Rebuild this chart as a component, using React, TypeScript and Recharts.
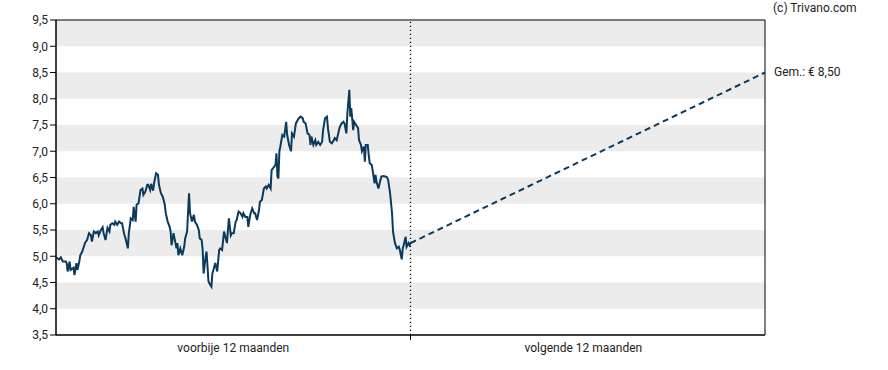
import { LineChart, Line, XAxis, YAxis, ReferenceArea, ReferenceLine } from 'recharts';

// koersverloop afgelopen 12 maanden: [dag, koers]
const PAST: [number, number][] = [
  [0, 4.98], [3, 4.94], [5, 4.98], [7, 4.9], [10, 4.9], [11, 4.87], [12, 4.71], [14, 4.9], [15, 4.74],
  [18, 4.78], [19, 4.64], [21, 4.87], [22, 4.74], [24, 4.9], [25, 5.02], [27, 5.09], [30, 5.26], [32, 5.31],
  [34, 5.44], [36, 5.4], [37, 5.28], [39, 5.47], [41, 5.44], [43, 5.47], [44, 5.4], [46, 5.49], [48, 5.55],
  [49, 5.44], [51, 5.31], [53, 5.54], [55, 5.47], [56, 5.6], [58, 5.63], [60, 5.6], [61, 5.66], [63, 5.6],
  [65, 5.66], [67, 5.63], [68, 5.63], [70, 5.44], [72, 5.31], [74, 5.15], [75, 5.44], [77, 5.72], [79, 5.69],
  [80, 5.94], [82, 5.66], [83, 5.98], [85, 6.01], [87, 6.26], [89, 6.29], [90, 6.17], [92, 6.23], [94, 6.36],
  [95, 6.36], [97, 6.26], [98, 6.38], [100, 6.25], [101, 6.39], [103, 6.58], [105, 6.55], [106, 6.36],
  [108, 6.2], [110, 6.13], [112, 5.98], [113, 5.82], [115, 5.66], [117, 5.56], [118, 5.47], [119, 5.21],
  [121, 5.44], [123, 5.25], [124, 5.15], [125, 5.25], [126, 5.02], [128, 5.15], [130, 5.02], [132, 5.18],
  [133, 5.34], [135, 5.47], [136, 5.85], [137, 6.2], [138, 5.82], [140, 5.66], [142, 5.79], [143, 5.66],
  [145, 5.6], [147, 5.5], [148, 5.34], [150, 5.31], [151, 5.12], [152, 4.67], [154, 4.99], [155, 5.09],
  [157, 4.52], [158, 4.48], [160, 4.42], [161, 4.67], [163, 4.8], [164, 4.87], [166, 4.71], [168, 5.12],
  [169, 5.15], [171, 5.12], [173, 5.47], [174, 5.4], [176, 5.25], [178, 5.72], [180, 5.4], [181, 5.44],
  [183, 5.44], [185, 5.66], [186, 5.69], [188, 5.85], [190, 5.82], [192, 5.75], [193, 5.82], [195, 5.75],
  [197, 5.75], [198, 5.56], [200, 5.79], [202, 5.91], [204, 5.82], [205, 5.82], [207, 5.69], [209, 5.88],
  [210, 6.04], [212, 6.07], [214, 6.29], [216, 6.33], [217, 6.29], [219, 6.36], [221, 6.29], [222, 6.64],
  [224, 6.69], [226, 6.74], [227, 6.96], [228, 6.52], [229, 6.48], [230, 7.0], [231, 7.09], [233, 7.31],
  [235, 7.28], [237, 7.56], [238, 7.31], [240, 7.12], [242, 7.0], [243, 7.34], [245, 7.28], [247, 7.53],
  [249, 7.6], [250, 7.63], [252, 7.66], [254, 7.63], [255, 7.56], [257, 7.53], [259, 7.34], [261, 7.31],
  [262, 7.12], [263, 7.28], [265, 7.12], [267, 7.21], [268, 7.12], [270, 7.18], [272, 7.12], [274, 7.18],
  [275, 7.4], [277, 7.63], [279, 7.66], [280, 7.44], [282, 7.18], [284, 7.15], [286, 7.21], [287, 7.25],
  [289, 7.21], [291, 7.37], [292, 7.45], [294, 7.53], [296, 7.56], [297, 7.53], [299, 7.34], [300, 7.72],
  [302, 8.17], [303, 7.66], [304, 7.82], [306, 7.4], [307, 7.56], [309, 7.5], [311, 7.44], [312, 7.21],
  [314, 7.12], [315, 7.0], [317, 7.09], [318, 6.8], [319, 7.12], [321, 7.12], [322, 6.93], [323, 6.77],
  [325, 6.74], [326, 6.64], [328, 6.39], [329, 6.55], [330, 6.42], [332, 6.29], [334, 6.45], [335, 6.52],
  [337, 6.53], [339, 6.52], [341, 6.5], [342, 6.45], [344, 6.2], [346, 5.82], [347, 5.47], [349, 5.25],
  [351, 5.15], [353, 5.18], [354, 5.12], [356, 4.94], [357, 5.15], [358, 5.21], [360, 5.37], [361, 5.18],
  [363, 5.25], [364, 5.21], [365, 5.25],
];

// koersdoel komende 12 maanden
const FORECAST: [number, number][] = [[365, 5.25], [730, 8.5]];

const Y_TICKS = [3.5, 4, 4.5, 5, 5.5, 6, 6.5, 7, 7.5, 8, 8.5, 9, 9.5];
const GREY_BANDS = [4, 5, 6, 7, 8, 9];
const TODAY = 365;
const PERIOD_LABELS = [
  { day: 182.5, label: 'voorbije 12 maanden' },
  { day: 543, label: 'volgende 12 maanden' },
];
const TARGET_LABEL = 'Gem.: € 8,50';
const COPYRIGHT = '(c) Trivano.com';

const LINE_COLOR = '#0b3a5c';

const pastData = PAST.map(([day, price]) => ({ day, price }));
const forecastData = FORECAST.map(([day, price]) => ({ day, price }));

const fmt = (v: number) => v.toFixed(1).replace('.', ',');

const PeriodTick = (props: any) => {
  const { x, y, payload } = props;
  if (payload.value === TODAY) {
    return <line x1={x} x2={x} y1={y - 8} y2={y - 3} stroke="#000" strokeWidth={1} />;
  }
  const item = PERIOD_LABELS.find(p => p.day === payload.value);
  return (
    <text x={x} y={y} dy="0.71em" textAnchor="middle" fontSize={12} fill="#222">
      {item?.label}
    </text>
  );
};

export default function App() {
  return (
    <div style={{ position: 'absolute', left: 0, top: 0, width: 888, height: 370, background: '#fff', fontFamily: 'Roboto, sans-serif' }}>
      <LineChart width={888} height={370} margin={{ top: 20, right: 123, bottom: 5, left: 0 }}>
        {GREY_BANDS.map(b => (
          <ReferenceArea key={b} x1={0} x2={730} y1={b} y2={b + 0.5} fill="#ececec" fillOpacity={1} stroke="none" />
        ))}
        <XAxis
          type="number"
          dataKey="day"
          domain={[0, 730]}
          ticks={[PERIOD_LABELS[0].day, TODAY, PERIOD_LABELS[1].day]}
          tick={<PeriodTick />}
          tickLine={false}
          tickSize={5}
          tickMargin={3}
          height={30}
          axisLine={{ stroke: '#000' }}
          interval={0}
          allowDecimals
        />
        <YAxis
          type="number"
          domain={[3.5, 9.5]}
          ticks={Y_TICKS}
          tickFormatter={fmt}
          width={56}
          tickSize={6}
          tickMargin={2}
          tick={{ fontSize: 12, fill: '#222' }}
          tickLine={{ stroke: '#000' }}
          axisLine={{ stroke: '#000' }}
          interval={0}
        />
        <ReferenceLine x={TODAY} stroke="#000" strokeDasharray="1.3 2.7" strokeWidth={1.2} />
        <ReferenceArea x1={0} x2={730} y1={3.5} y2={9.5} fill="none" stroke="#000" strokeWidth={1} />
        <Line
          data={pastData}
          dataKey="price"
          type="linear"
          stroke={LINE_COLOR}
          strokeWidth={2}
          dot={false}
          activeDot={false}
          isAnimationActive={false}
        />
        <Line
          data={forecastData}
          dataKey="price"
          type="linear"
          stroke={LINE_COLOR}
          strokeWidth={2}
          strokeDasharray="6 4"
          dot={false}
          activeDot={false}
          isAnimationActive={false}
        />
      </LineChart>
      <div style={{ position: 'absolute', left: 773, top: 1, fontSize: 12, color: '#222', whiteSpace: 'nowrap' }}>{COPYRIGHT}</div>
      <div style={{ position: 'absolute', left: 774, top: 65, fontSize: 12, color: '#222', whiteSpace: 'nowrap' }}>{TARGET_LABEL}</div>
    </div>
  );
}
